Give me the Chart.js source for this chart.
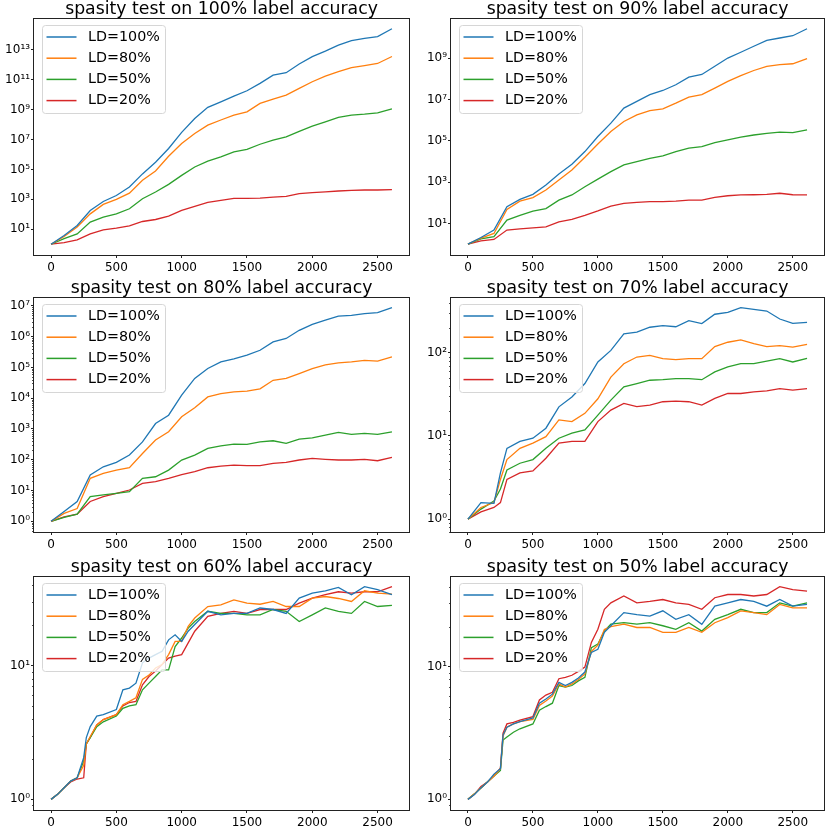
<!DOCTYPE html>
<html>
<head>
<meta charset="utf-8">
<title>spasity test</title>
<script src="https://cdn.jsdelivr.net/npm/chart.js@4.4.0/dist/chart.umd.min.js"></script>
<style>
  html, body { margin: 0; padding: 0; background: #fff; }
  #fig { position: relative; width: 830px; height: 830px; }
  #fig canvas { position: absolute; }
</style>
</head>
<body>
<div id="fig">
  <canvas id="p1" width="415" height="277" style="left:0;top:0"></canvas>
  <canvas id="p2" width="415" height="277" style="left:415px;top:0"></canvas>
  <canvas id="p3" width="415" height="277" style="left:0;top:277px"></canvas>
  <canvas id="p4" width="415" height="277" style="left:415px;top:277px"></canvas>
  <canvas id="p5" width="415" height="276" style="left:0;top:554px"></canvas>
  <canvas id="p6" width="415" height="276" style="left:415px;top:554px"></canvas>
</div>
<script>
// series names / colours (matplotlib tab10)
const seriesLabels = ['LD=100%', 'LD=80%', 'LD=50%', 'LD=20%'];
const seriesColors = ['#1f77b4', '#ff7f0e', '#2ca02c', '#d62728'];
const xTicks = [0, 500, 1000, 1500, 2000, 2500];

// 100% label accuracy
const days100 = [0,100,200,300,400,500,600,700,800,900,1000,1100,1200,1300,1400,1500,1600,1700,1800,1900,2000,2100,2200,2300,2400,2500,2610];
const acc100_ld100 = [1,3.8,18,180,720,1.8e3,6.6e3,5e4,3e5,2.5e6,3e7,2.5e8,1.4e9,3.3e9,8e9,1.8e10,5.6e10,2e11,2.9e11,1.1e12,3.4e12,8e12,2e13,4e13,5.8e13,7.5e13,2.5e14];
const acc100_ld80 = [1,3.3,14,107,460,1e3,2.6e3,1.9e4,7.8e4,7.6e5,5.3e6,2.5e7,9e7,2e8,4.2e8,7e8,2.6e9,5e9,9.3e9,2.6e10,7.2e10,1.7e11,3.4e11,6.3e11,8.5e11,1.2e12,3.5e12];
const acc100_ld50 = [1,2.4,4.9,30,65,108,233,1.1e3,3.1e3,1e4,4e4,1.45e5,3.6e5,6.8e5,1.5e6,2.2e6,4.8e6,9e6,1.5e7,3.5e7,7.7e7,1.5e8,3e8,4.2e8,4.9e8,6e8,1.1e9];
const acc100_ld20 = [1,1.3,1.95,4.9,9,12,17,33,45,75,180,340,620,850,1150,1150,1200,1400,1600,2400,2800,3200,3600,4000,4200,4200,4400];
const yTicks100 = [1e1,1e3,1e5,1e7,1e9,1e11,1e13];

// 90% label accuracy
const days90 = days100;
const acc90_ld100 = [1,2.1,4.8,65,147,257,724,2.5e3,7.3e3,3e4,1.6e5,7.1e5,3.8e6,8e6,1.7e7,2.7e7,5.1e7,1.2e8,1.6e8,4e8,1e9,1.9e9,3.7e9,7.2e9,9.3e9,1.2e10,2.6e10];
const acc90_ld80 = [1,1.95,3.3,48,121,178,415,1.26e3,3.9e3,1.6e4,7e4,2.8e5,8.5e5,1.8e6,2.9e6,3.5e6,6.6e6,1.3e7,1.7e7,3.5e7,7.4e7,1.4e8,2.5e8,4e8,4.8e8,5.3e8,9.3e8];
const acc90_ld50 = [1,1.8,2.3,14.5,25,40,53,135,240,600,1.4e3,3.2e3,6.8e3,9.8e3,1.4e4,1.85e4,3e4,4.4e4,5.2e4,8.2e4,1.1e5,1.5e5,1.9e5,2.3e5,2.6e5,2.5e5,3.4e5];
const acc90_ld20 = [1,1.45,1.7,4.8,5.5,6.2,6.9,12,16,25,41,70,94,105,113,113,121,136,136,183,220,240,245,255,290,245,240];
const yTicks90 = [1e1,1e3,1e5,1e7,1e9];

// 80% label accuracy
const days80 = days100;
const acc80_ld100 = [1,2.1,4.4,32,59,82,142,380,1.5e3,2.8e3,1.25e4,4.4e4,9.2e4,1.5e5,1.9e5,2.5e5,3.6e5,6.7e5,8.7e5,1.6e6,2.5e6,3.4e6,4.6e6,4.9e6,5.6e6,6e6,8.7e6];
const acc80_ld80 = [1,1.8,2.6,25,36,46,55,160,436,810,2.5e3,4.9e3,1.1e4,1.4e4,1.6e4,1.7e4,2e4,3.8e4,4.4e4,6.3e4,9.1e4,1.2e5,1.4e5,1.5e5,1.7e5,1.6e5,2.2e5];
const acc80_ld50 = [1,1.35,1.7,6.3,7.2,8.1,9.2,25,28,46,98,142,234,284,322,315,383,414,340,468,516,630,770,665,715,665,810];
const acc80_ld20 = [1,1.4,1.7,4.4,6.3,8.1,10.4,17,19.4,25,33,41,55,62,67,64,64,76,82,98,110,103,98,98,103,93,120];
const yTicks80 = [1e0,1e1,1e2,1e3,1e4,1e5,1e6,1e7];

// 70% label accuracy
const days70 = [0,100,200,250,300,400,500,600,700,800,900,1000,1100,1200,1300,1400,1500,1600,1700,1800,1900,2000,2100,2200,2300,2400,2500,2610];
const acc70_ld100 = [1,1.58,1.55,3.6,7.1,8.6,9.4,12.4,22.4,29.5,42.7,77.6,107,169,177,203,212,206,244,225,291,307,350,333,318,255,226,232];
const acc70_ld80 = [1,1.38,1.58,3.0,5.2,7.1,8.2,9.8,15.6,14.9,18.7,28,51,74,89,93,85,83,85,85,119,134,143,129,119,122,117,126];
const acc70_ld50 = [1,1.32,1.65,2.3,3.9,4.7,5.2,7.1,9.4,10.8,11.8,17.8,27,39,42.7,46.8,47.5,49,49,47.5,59,67.6,74,74,79.6,85,77.6,86];
const acc70_ld20 = [1,1.22,1.38,1.58,3.0,3.6,3.8,5.4,8.2,8.6,8.6,14.9,20.5,24.6,22.5,23.5,25.8,26.3,25.8,23.5,28.3,32.4,32.4,34,34.8,37,35.6,37];
const yTicks70 = [1e0,1e1,1e2];

// 60% label accuracy
const days60 = [0,50,100,150,200,250,270,300,350,400,500,550,600,650,700,750,800,850,900,950,1000,1050,1100,1200,1300,1400,1500,1600,1700,1800,1900,2000,2100,2200,2300,2400,2500,2610];
const acc60_ld100 = [1,1.09,1.22,1.37,1.45,2.05,2.9,3.5,4.2,4.3,4.7,6.6,6.8,7.4,10.5,11.4,12.1,12.8,15.6,17,15.2,18.1,20.3,25.5,24,24.6,24.6,27,26.3,24.6,32,34.9,36.3,38.5,33.9,39,37,34];
const acc60_ld80 = [1,1.09,1.22,1.37,1.45,1.8,2.6,2.95,3.6,3.95,4.3,5.1,5.4,5.75,7.9,8.5,9.6,10.2,12.1,15.2,15.2,19.7,22.7,27.7,28.5,31,29.4,28.8,30.2,27.7,27.7,32,32.9,31.8,30.2,36.3,34.9,34.3];
const acc60_ld50 = [1,1.09,1.22,1.37,1.45,1.93,2.6,2.9,3.5,3.8,4.2,4.8,5,5.1,6.6,7.4,8.3,9.3,9.3,13.9,16.1,19.1,21.4,25.5,24.6,24.6,24,24,26.3,25.5,21.4,24,27,25.5,24.6,30.2,27.7,28.2];
const acc60_ld20 = [1,1.09,1.22,1.35,1.42,1.45,2.6,2.9,3.6,3.95,4.3,5,5.3,5.4,7.2,8.3,9.1,10.2,11.4,11.8,12.1,14.8,18.1,23.4,24.6,25.5,24.6,26.3,26.3,26.3,29.4,32,34,35.7,34.9,35.7,35.7,39];
const yTicks60 = [1e0,1e1];

// 50% label accuracy
const days50 = days60;
const acc50_ld100 = [1,1.09,1.22,1.35,1.55,1.7,3.05,3.5,3.7,3.85,4.1,5.3,5.7,6.2,7.6,7.2,7.6,8.2,9.1,12.8,13.5,18.1,20.3,25.5,24.6,24,26.3,22.7,24.6,20.8,28.5,30.2,32,31,28.5,32,28.5,29.4];
const acc50_ld80 = [1,1.1,1.22,1.35,1.5,1.7,3.0,3.5,3.7,3.85,4.0,5.1,5.5,6.0,7.4,7.0,7.4,8.0,8.8,13,14.5,19,20,20.9,19.7,19.7,18.1,18.1,19.7,18.1,21.4,23.4,26.3,25.5,24.6,29.4,27.7,27.7];
const acc50_ld50 = [1,1.1,1.22,1.35,1.5,1.65,2.8,2.95,3.2,3.4,3.7,4.7,5.0,5.3,7.2,7.0,7.2,7.8,8.3,13.9,14.8,18.5,20.9,21.4,20.9,21.4,20.3,19.1,21.4,18.5,22.7,24.6,27,25.5,25.5,30.2,28.5,30.2];
const acc50_ld20 = [1,1.09,1.25,1.35,1.5,1.72,3.15,3.7,3.8,3.95,4.2,5.6,6.1,6.4,8.1,8.3,8.6,9.2,9.9,15.2,19.1,27,30.2,34,30.2,31,32,30.2,29.4,27,33,34.9,34.9,34,34.9,40,38,37];
const yTicks50 = [1e0,1e1];

const panels = [
  { id: 'p1', title: 'spasity test on 100% label accuracy', days: days100, series: [acc100_ld100, acc100_ld80, acc100_ld50, acc100_ld20], yTicks: yTicks100, minor: false },
  { id: 'p2', title: 'spasity test on 90% label accuracy', days: days90, series: [acc90_ld100, acc90_ld80, acc90_ld50, acc90_ld20], yTicks: yTicks90, minor: false },
  { id: 'p3', title: 'spasity test on 80% label accuracy', days: days80, series: [acc80_ld100, acc80_ld80, acc80_ld50, acc80_ld20], yTicks: yTicks80, minor: true },
  { id: 'p4', title: 'spasity test on 70% label accuracy', days: days70, series: [acc70_ld100, acc70_ld80, acc70_ld50, acc70_ld20], yTicks: yTicks70, minor: true },
  { id: 'p5', title: 'spasity test on 60% label accuracy', days: days60, series: [acc60_ld100, acc60_ld80, acc60_ld50, acc60_ld20], yTicks: yTicks60, minor: true },
  { id: 'p6', title: 'spasity test on 50% label accuracy', days: days50, series: [acc50_ld100, acc50_ld80, acc50_ld50, acc50_ld20], yTicks: yTicks50, minor: true },
];

// plot box inside each canvas (left, right, top, bottom)
const boxes = [
  [34, 409, 18, 255], [36, 409, 18, 255],
  [34, 409, 20, 255], [36, 409, 20, 255],
  [34, 409, 22, 256], [36, 409, 22, 256],
];

const FONT = "'DejaVu Sans', sans-serif";
const SUP = '⁰¹²³⁴⁵⁶⁷⁸⁹';
const sup = n => String(n).split('').map(d => SUP[+d]).join('');

// frame, minor ticks, title and legend drawn on top of the lines
const decor = {
  id: 'decor',
  afterDatasetsDraw(chart, args, opts) {
    const { ctx, chartArea: a } = chart;
    const y = chart.scales.y;
    ctx.save();
    ctx.strokeStyle = '#222';
    if (opts.minor) {
      ctx.lineWidth = 0.8;
      const lo = Math.floor(Math.log10(y.min)), hi = Math.ceil(Math.log10(y.max));
      for (let d = lo; d <= hi; d++) {
        for (let m = 2; m <= 9; m++) {
          const v = m * Math.pow(10, d);
          if (v < y.min || v > y.max) continue;
          const py = Math.round(y.getPixelForValue(v)) + 0.5;
          ctx.beginPath(); ctx.moveTo(a.left - 2, py); ctx.lineTo(a.left, py); ctx.stroke();
        }
      }
    }
    ctx.lineWidth = 1;
    ctx.strokeRect(Math.round(a.left) - 0.5, Math.round(a.top) + 0.5, Math.round(a.right - a.left) + 1, Math.round(a.bottom - a.top));

    // title
    ctx.fillStyle = '#000';
    ctx.font = '17.3px ' + FONT;
    ctx.textAlign = 'center';
    ctx.textBaseline = 'alphabetic';
    ctx.fillText(opts.title, (a.left + a.right) / 2, a.top - 4.5);

    // legend
    const bx = a.left + 8, by = a.top + 7, bw = 123, bh = 88;
    ctx.beginPath();
    ctx.roundRect(bx + 0.5, by + 0.5, bw, bh, 3);
    ctx.fillStyle = 'rgba(255,255,255,0.8)';
    ctx.fill();
    ctx.strokeStyle = '#d6d6d6';
    ctx.stroke();
    ctx.font = '14.3px ' + FONT;
    ctx.textAlign = 'left';
    ctx.textBaseline = 'middle';
    chart.data.datasets.forEach((ds, i) => {
      const cy = by + 12 + i * 21.2;
      ctx.strokeStyle = ds.borderColor;
      ctx.lineWidth = 1.5;
      ctx.beginPath(); ctx.moveTo(bx + 4.5, cy); ctx.lineTo(bx + 34.5, cy); ctx.stroke();
      ctx.fillStyle = '#000';
      ctx.fillText(ds.label, bx + 46, cy);
    });
    ctx.restore();
  }
};

panels.forEach((p, k) => {
  const canvas = document.getElementById(p.id);
  const [L, R, T, B] = boxes[k];
  const W = canvas.width, H = canvas.height;
  const xAxisH = 22;

  const all = p.series.flat();
  const lo = Math.log10(Math.min(...all)), hi = Math.log10(Math.max(...all));
  const span = hi - lo;
  const n = p.days[p.days.length - 1];

  new Chart(canvas, {
    type: 'line',
    data: {
      datasets: p.series.map((vals, i) => ({
        label: seriesLabels[i],
        data: p.days.map((d, j) => ({ x: d, y: vals[j] })),
        borderColor: seriesColors[i],
        borderWidth: 1.3,
        pointRadius: 0,
        tension: 0,
        fill: false,
      })),
    },
    options: {
      responsive: false,
      animation: false,
      devicePixelRatio: 1,
      layout: { padding: { left: 0, top: T, right: W - R, bottom: H - B - xAxisH } },
      plugins: {
        legend: { display: false },
        title: { display: false },
        tooltip: { enabled: false },
        decor: { title: p.title, minor: p.minor },
      },
      scales: {
        x: {
          type: 'linear',
          min: -0.05 * n,
          max: 1.05 * n,
          afterBuildTicks: s => { s.ticks = xTicks.map(v => ({ value: v })); },
          afterFit: s => { s.height = xAxisH; },
          border: { display: false },
          grid: { drawOnChartArea: false, drawTicks: true, tickLength: 3, tickColor: '#222', tickWidth: 1 },
          ticks: { color: '#000', font: { family: FONT, size: 12 }, padding: 3, maxRotation: 0, autoSkip: false, callback: v => String(v) },
        },
        y: {
          type: 'logarithmic',
          min: Math.pow(10, lo - 0.05 * span),
          max: Math.pow(10, hi + 0.05 * span),
          afterBuildTicks: s => { s.ticks = p.yTicks.map(v => ({ value: v })); },
          afterFit: s => { s.width = L; },
          border: { display: false },
          grid: { drawOnChartArea: false, drawTicks: true, tickLength: 3, tickColor: '#222', tickWidth: 1 },
          ticks: { color: '#000', font: { family: FONT, size: 12 }, padding: 1, autoSkip: false, callback: v => '10' + sup(Math.round(Math.log10(v))) },
        },
      },
    },
    plugins: [decor],
  });
});
</script>
</body>
</html>
